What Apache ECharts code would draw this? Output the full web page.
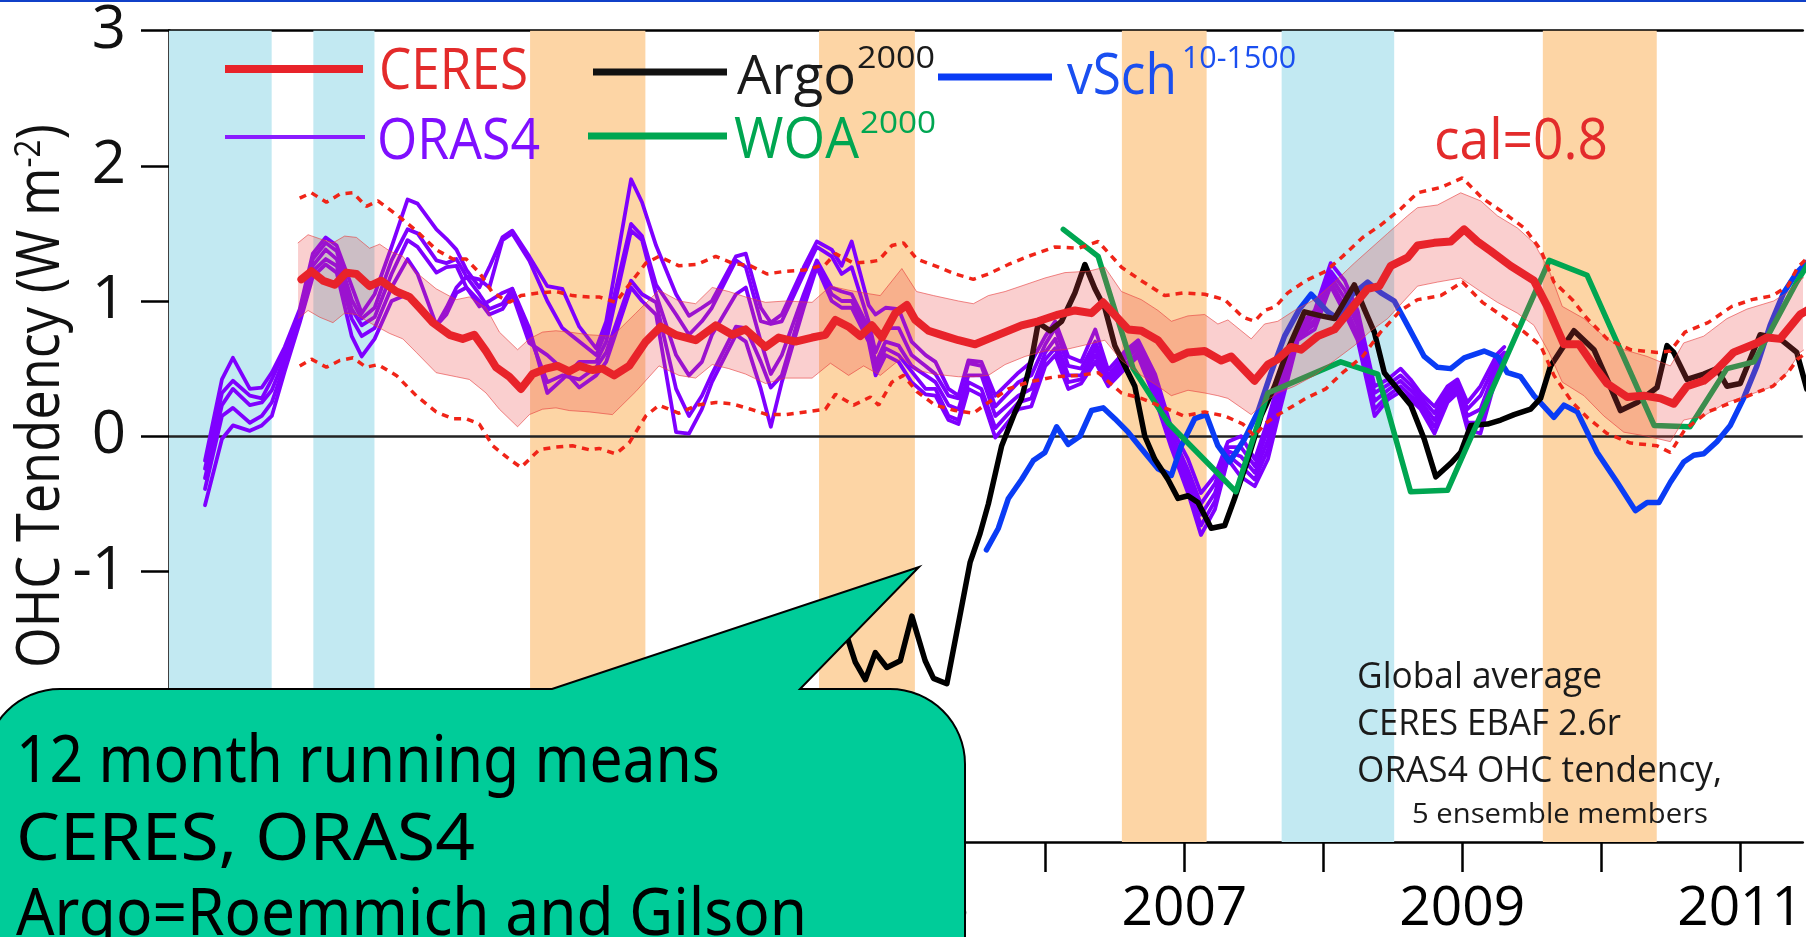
<!DOCTYPE html>
<html><head><meta charset="utf-8">
<script src="https://cdn.jsdelivr.net/npm/echarts@6.0.0/dist/echarts.min.js"></script>
<style>html,body{margin:0;padding:0;background:#fff;overflow:hidden}#c{width:1806px;height:937px}</style>
</head><body><div id="c"></div>
<script>
// ---------------- DATA ----------------
const xTickYears = [2000,2001,2002,2003,2004,2005,2006,2007,2008,2009,2010,2011];
const xLabelYears = [2001,2003,2005,2007,2009,2011];
const yTickValues = [-3,-2,-1,0,1,2,3];
// -3 and -2 sit behind the speech bubble in the original figure
const yTickLabels = ['','','-1','0','1','2','3'];

// ENSO shading (start year, end year)
const laNina = [[1999.69,2000.43],[2000.73,2001.17],[2007.70,2008.51]];
const elNino = [[2002.29,2003.12],[2004.37,2005.06],[2006.55,2007.16],[2009.58,2010.40]];

// CERES 12-month running mean (year, W m-2)
const ceres = [[2000.644,1.16],[2000.716,1.22],[2000.800,1.15],[2000.884,1.12],[2000.968,1.21],[2001.040,1.20],[2001.135,1.11],[2001.219,1.15],[2001.327,1.07],[2001.422,1.03],[2001.494,0.95],[2001.590,0.84],[2001.710,0.75],[2001.805,0.72],[2001.889,0.75],[2001.973,0.63],[2002.045,0.51],[2002.141,0.44],[2002.225,0.35],[2002.308,0.46],[2002.404,0.50],[2002.488,0.52],[2002.572,0.48],[2002.644,0.52],[2002.739,0.49],[2002.811,0.50],[2002.895,0.45],[2003.003,0.52],[2003.123,0.70],[2003.231,0.81],[2003.338,0.75],[2003.482,0.71],[2003.626,0.82],[2003.745,0.75],[2003.841,0.79],[2003.985,0.66],[2004.080,0.73],[2004.200,0.70],[2004.320,0.73],[2004.416,0.75],[2004.488,0.86],[2004.583,0.81],[2004.667,0.74],[2004.751,0.82],[2004.823,0.73],[2004.919,0.91],[2005.002,0.97],[2005.063,0.86],[2005.158,0.78],[2005.278,0.74],[2005.374,0.71],[2005.494,0.68],[2005.589,0.72],[2005.709,0.77],[2005.828,0.82],[2005.948,0.85],[2006.092,0.90],[2006.212,0.93],[2006.331,0.91],[2006.415,0.99],[2006.487,0.91],[2006.595,0.79],[2006.690,0.78],[2006.810,0.71],[2006.918,0.57],[2007.026,0.62],[2007.146,0.63],[2007.265,0.56],[2007.337,0.59],[2007.505,0.41],[2007.601,0.53],[2007.672,0.57],[2007.768,0.66],[2007.840,0.64],[2007.960,0.74],[2008.080,0.79],[2008.199,0.94],[2008.319,1.09],[2008.403,1.11],[2008.486,1.26],[2008.606,1.32],[2008.678,1.41],[2008.798,1.43],[2008.917,1.44],[2009.014,1.53],[2009.109,1.44],[2009.205,1.37],[2009.348,1.26],[2009.516,1.15],[2009.612,0.96],[2009.732,0.68],[2009.840,0.68],[2009.948,0.52],[2010.043,0.39],[2010.187,0.29],[2010.307,0.30],[2010.426,0.28],[2010.522,0.24],[2010.618,0.37],[2010.738,0.41],[2010.810,0.47],[2010.953,0.62],[2011.121,0.69],[2011.193,0.73],[2011.288,0.72],[2011.432,0.90],[2011.516,0.95]];

// CERES shaded uncertainty band
const bandYears = [2000.620,2000.692,2000.776,2000.871,2000.955,2001.040,2001.135,2001.207,2001.279,2001.374,2001.471,2001.614,2001.758,2001.853,2001.973,2002.069,2002.200,2002.285,2002.380,2002.476,2002.572,2002.716,2002.883,2003.051,2003.218,2003.362,2003.482,2003.601,2003.721,2003.841,2003.985,2004.129,2004.320,2004.452,2004.583,2004.691,2004.811,2004.966,2005.072,2005.194,2005.374,2005.481,2005.589,2005.709,2005.853,2005.996,2006.140,2006.307,2006.427,2006.547,2006.690,2006.810,2006.906,2007.026,2007.146,2007.241,2007.313,2007.481,2007.577,2007.672,2007.792,2007.936,2008.080,2008.223,2008.343,2008.463,2008.606,2008.678,2008.822,2008.989,2009.133,2009.253,2009.397,2009.516,2009.624,2009.720,2009.876,2010.019,2010.163,2010.331,2010.498,2010.594,2010.738,2010.905,2011.049,2011.241,2011.336,2011.432,2011.516];
const bandUpper = [1.43,1.49,1.46,1.43,1.48,1.47,1.39,1.42,1.37,1.33,1.21,1.09,1.01,1.03,0.95,0.77,0.64,0.72,0.77,0.78,0.77,0.75,0.74,0.91,1.08,1.00,0.98,1.10,1.07,1.03,0.99,1.00,0.99,1.11,1.08,1.06,1.04,1.24,1.07,1.04,1.00,0.98,1.04,1.07,1.12,1.17,1.21,1.22,1.25,1.07,1.01,0.93,0.85,0.89,0.90,0.83,0.86,0.72,0.83,0.85,0.93,1.01,1.14,1.28,1.39,1.50,1.63,1.69,1.71,1.80,1.74,1.63,1.54,1.43,1.23,0.96,0.87,0.74,0.64,0.59,0.52,0.69,0.74,0.87,0.94,1.00,1.06,1.16,1.20];
const bandLower = [0.87,0.93,0.88,0.84,0.91,0.90,0.84,0.80,0.76,0.72,0.62,0.47,0.44,0.42,0.32,0.20,0.07,0.16,0.20,0.21,0.19,0.18,0.16,0.33,0.52,0.45,0.43,0.53,0.50,0.46,0.39,0.43,0.43,0.54,0.45,0.52,0.45,0.58,0.49,0.46,0.44,0.44,0.45,0.53,0.59,0.63,0.64,0.68,0.71,0.56,0.45,0.37,0.30,0.34,0.32,0.30,0.28,0.16,0.25,0.32,0.37,0.45,0.56,0.67,0.78,0.87,1.03,1.11,1.14,1.17,1.07,0.99,0.91,0.82,0.62,0.40,0.30,0.15,0.03,0.00,-0.04,0.12,0.15,0.25,0.30,0.37,0.47,0.62,0.68];

// CERES dotted outer bounds
const dotYears = [2000.632,2000.716,2000.824,2000.920,2001.015,2001.111,2001.195,2001.327,2001.471,2001.614,2001.734,2001.830,2001.925,2002.021,2002.141,2002.225,2002.356,2002.476,2002.596,2002.716,2002.787,2002.907,2003.003,2003.123,2003.218,2003.362,2003.491,2003.626,2003.745,2003.877,2003.996,2004.129,2004.272,2004.416,2004.488,2004.619,2004.739,2004.799,2004.894,2004.978,2005.074,2005.206,2005.350,2005.481,2005.589,2005.733,2005.876,2006.068,2006.236,2006.379,2006.547,2006.690,2006.858,2006.997,2007.146,2007.290,2007.421,2007.505,2007.577,2007.658,2007.744,2007.874,2008.017,2008.139,2008.283,2008.412,2008.556,2008.678,2008.846,2009.001,2009.145,2009.301,2009.447,2009.564,2009.660,2009.792,2009.899,2010.043,2010.211,2010.402,2010.498,2010.603,2010.769,2010.941,2011.085,2011.236,2011.343,2011.415,2011.516];
const dotUpper = [1.76,1.80,1.73,1.79,1.80,1.70,1.74,1.64,1.52,1.38,1.31,1.31,1.21,1.06,0.99,1.04,1.06,1.07,1.04,1.03,1.03,0.99,1.12,1.28,1.33,1.26,1.27,1.33,1.28,1.26,1.20,1.22,1.23,1.27,1.35,1.28,1.29,1.30,1.41,1.43,1.31,1.26,1.20,1.16,1.20,1.27,1.33,1.40,1.39,1.44,1.25,1.15,1.04,1.06,1.05,1.01,0.88,0.85,0.93,0.96,1.06,1.15,1.22,1.33,1.47,1.56,1.68,1.80,1.84,1.91,1.76,1.65,1.54,1.38,1.14,1.01,0.87,0.72,0.64,0.62,0.63,0.77,0.84,0.96,1.01,1.04,1.11,1.25,1.35];
const dotLower = [0.52,0.57,0.51,0.56,0.58,0.51,0.53,0.45,0.30,0.18,0.13,0.13,0.09,-0.07,-0.17,-0.23,-0.10,-0.08,-0.07,-0.10,-0.09,-0.13,-0.05,0.15,0.23,0.17,0.23,0.25,0.24,0.20,0.16,0.16,0.18,0.20,0.31,0.23,0.29,0.23,0.40,0.45,0.33,0.23,0.19,0.17,0.25,0.35,0.40,0.44,0.45,0.47,0.32,0.28,0.21,0.15,0.18,0.15,0.09,0.00,0.09,0.15,0.20,0.28,0.35,0.47,0.59,0.77,0.93,1.01,1.04,1.14,0.99,0.88,0.77,0.67,0.45,0.25,0.14,0.02,-0.05,-0.07,-0.12,0.05,0.18,0.25,0.31,0.37,0.47,0.57,0.65];

// ORAS4 OHC tendency, 5 ensemble members
const oras4Years = [1999.950,2000.072,2000.151,2000.273,2000.359,2000.431,2000.524,2000.632,2000.726,2000.819,2000.898,2001.006,2001.078,2001.171,2001.293,2001.408,2001.480,2001.616,2001.688,2001.760,2001.832,2001.925,2001.997,2002.091,2002.162,2002.284,2002.414,2002.522,2002.644,2002.766,2002.838,2003.017,2003.096,2003.197,2003.341,2003.434,2003.527,2003.599,2003.772,2003.843,2003.951,2004.023,2004.102,2004.260,2004.354,2004.461,2004.533,2004.605,2004.727,2004.777,2004.849,2004.943,2005.036,2005.137,2005.208,2005.302,2005.374,2005.445,2005.539,2005.639,2005.805,2005.898,2005.999,2006.070,2006.164,2006.257,2006.358,2006.451,2006.573,2006.667,2006.789,2006.904,2007.026,2007.119,2007.220,2007.313,2007.407,2007.507,2007.601,2007.694,2007.816,2007.938,2008.053,2008.154,2008.247,2008.369,2008.463,2008.556,2008.628,2008.700,2008.800,2008.894,2008.966,2009.037,2009.131,2009.253,2009.303];
const oras4M1 = [-0.18,0.42,0.58,0.35,0.36,0.47,0.66,0.94,1.35,1.47,1.41,1.11,0.91,1.05,1.40,1.75,1.72,1.53,1.46,1.38,1.23,1.10,1.25,1.47,1.52,1.33,1.11,1.09,0.81,0.65,0.85,1.90,1.73,1.41,1.05,0.89,0.95,1.00,1.33,1.35,0.95,0.84,0.90,1.25,1.44,1.38,1.26,1.44,0.97,0.90,0.95,0.94,0.70,0.60,0.55,0.35,0.30,0.56,0.55,0.30,0.47,0.55,0.74,0.85,0.59,0.55,0.79,0.49,0.63,0.71,0.46,0.07,-0.17,-0.42,-0.29,-0.04,0.00,-0.17,0.12,0.46,0.81,0.93,1.28,1.15,0.93,0.37,0.42,0.50,0.42,0.32,0.22,0.37,0.42,0.25,0.37,0.61,0.66];
const oras4M2 = [-0.24,0.32,0.41,0.30,0.28,0.42,0.63,0.92,1.31,1.43,1.37,1.01,0.87,0.95,1.30,1.53,1.50,1.30,1.28,1.31,1.18,1.16,1.10,1.45,1.50,1.30,1.00,0.80,0.70,0.60,0.78,1.57,1.48,1.12,0.90,0.75,0.85,0.95,1.30,1.25,0.85,0.83,0.85,1.20,1.40,1.33,1.20,1.25,0.85,0.62,0.80,0.80,0.60,0.52,0.46,0.30,0.28,0.54,0.52,0.22,0.40,0.45,0.68,0.80,0.52,0.50,0.70,0.45,0.60,0.68,0.42,0.03,-0.25,-0.50,-0.35,-0.08,-0.08,-0.22,0.05,0.40,0.78,0.90,1.22,1.08,0.87,0.32,0.38,0.45,0.38,0.29,0.17,0.34,0.40,0.20,0.30,0.57,0.62];
const oras4M3 = [-0.31,0.23,0.35,0.23,0.25,0.34,0.58,0.89,1.26,1.38,1.31,0.94,0.82,0.88,1.20,1.45,1.40,1.21,1.25,1.26,1.10,0.96,1.00,1.06,1.09,0.80,0.32,0.42,0.55,0.55,0.70,1.52,1.45,1.05,0.60,0.45,0.55,0.75,1.05,1.10,0.70,0.46,0.60,1.05,1.30,1.10,1.07,1.05,0.80,0.54,0.70,0.67,0.52,0.45,0.40,0.23,0.20,0.45,0.45,0.15,0.30,0.35,0.62,0.72,0.45,0.45,0.65,0.42,0.57,0.65,0.38,0.00,-0.30,-0.58,-0.42,-0.11,-0.15,-0.27,-0.03,0.34,0.76,0.86,1.18,1.02,0.82,0.26,0.34,0.41,0.34,0.26,0.12,0.31,0.37,0.15,0.20,0.54,0.60];
const oras4M4 = [-0.39,0.15,0.21,0.10,0.15,0.25,0.53,0.87,1.22,1.31,1.26,0.87,0.74,0.80,1.10,1.31,1.20,0.82,0.95,1.10,1.18,1.05,0.94,0.98,1.09,0.75,0.40,0.45,0.42,0.51,0.62,1.15,1.05,0.99,0.35,0.15,0.30,0.46,0.81,0.80,0.55,0.36,0.45,1.00,1.28,1.05,1.00,1.00,0.75,0.50,0.65,0.60,0.48,0.35,0.35,0.15,0.12,0.40,0.35,0.06,0.25,0.28,0.57,0.65,0.40,0.42,0.60,0.40,0.53,0.62,0.33,-0.04,-0.36,-0.66,-0.48,-0.14,-0.22,-0.32,-0.10,0.28,0.73,0.83,1.14,0.96,0.76,0.20,0.30,0.37,0.30,0.23,0.07,0.28,0.35,0.10,0.10,0.50,0.57];
const oras4M5 = [-0.51,-0.02,0.08,0.04,0.08,0.15,0.48,0.84,1.18,1.27,1.21,0.74,0.59,0.72,1.00,1.05,0.95,0.82,0.90,1.06,1.10,1.00,0.90,0.94,1.05,0.69,0.60,0.50,0.36,0.45,0.55,1.10,1.00,0.90,0.03,0.02,0.20,0.40,0.75,0.70,0.35,0.07,0.40,0.95,1.25,1.00,0.95,0.95,0.70,0.45,0.60,0.55,0.40,0.31,0.30,0.12,0.09,0.35,0.30,-0.01,0.20,0.22,0.52,0.60,0.35,0.39,0.55,0.37,0.50,0.59,0.28,-0.08,-0.42,-0.73,-0.54,-0.17,-0.30,-0.37,-0.17,0.22,0.71,0.79,1.11,0.91,0.71,0.15,0.27,0.33,0.27,0.20,0.02,0.25,0.32,0.05,0.02,0.47,0.55];

// Argo (0-2000 m), Roemmich and Gilson
const argo = [[2004.571,-1.48],[2004.631,-1.67],[2004.703,-1.80],[2004.775,-1.60],[2004.858,-1.71],[2004.955,-1.66],[2005.038,-1.33],[2005.134,-1.66],[2005.194,-1.79],[2005.290,-1.83],[2005.374,-1.38],[2005.458,-0.93],[2005.529,-0.72],[2005.589,-0.50],[2005.685,-0.07],[2005.781,0.18],[2005.828,0.28],[2005.900,0.57],[2005.948,0.84],[2006.032,0.78],[2006.116,0.85],[2006.212,1.06],[2006.284,1.27],[2006.356,1.09],[2006.427,0.95],[2006.499,0.67],[2006.571,0.52],[2006.643,0.37],[2006.715,0.00],[2006.787,-0.17],[2006.882,-0.32],[2006.954,-0.46],[2007.026,-0.44],[2007.098,-0.49],[2007.193,-0.68],[2007.290,-0.66],[2007.361,-0.46],[2007.457,-0.17],[2007.552,0.15],[2007.649,0.37],[2007.744,0.64],[2007.864,0.92],[2007.984,0.89],[2008.080,0.87],[2008.223,1.12],[2008.295,0.94],[2008.367,0.77],[2008.439,0.47],[2008.534,0.35],[2008.630,0.23],[2008.726,-0.02],[2008.810,-0.30],[2008.917,-0.20],[2008.989,-0.12],[2009.061,0.08],[2009.181,0.09],[2009.277,0.12],[2009.373,0.16],[2009.492,0.20],[2009.564,0.28],[2009.636,0.52],[2009.732,0.67],[2009.804,0.78],[2009.948,0.64],[2010.043,0.42],[2010.139,0.19],[2010.259,0.25],[2010.402,0.36],[2010.474,0.67],[2010.522,0.62],[2010.618,0.42],[2010.738,0.46],[2010.833,0.50],[2010.905,0.37],[2011.001,0.39],[2011.144,0.75],[2011.288,0.72],[2011.408,0.62],[2011.480,0.35]];

// von Schuckmann 10-1500 m
const vsch = [[2005.575,-0.84],[2005.661,-0.68],[2005.733,-0.46],[2005.828,-0.32],[2005.912,-0.18],[2005.996,-0.12],[2006.080,0.07],[2006.164,-0.06],[2006.248,0.00],[2006.331,0.19],[2006.415,0.21],[2006.499,0.13],[2006.595,0.03],[2006.690,-0.09],[2006.810,-0.24],[2006.906,-0.29],[2006.978,-0.07],[2007.074,0.13],[2007.157,0.16],[2007.241,-0.07],[2007.325,-0.19],[2007.433,-0.02],[2007.529,0.18],[2007.624,0.47],[2007.721,0.74],[2007.828,0.94],[2007.912,1.05],[2008.032,0.92],[2008.103,0.87],[2008.199,1.04],[2008.319,1.14],[2008.415,1.06],[2008.511,1.00],[2008.606,0.82],[2008.726,0.59],[2008.822,0.51],[2008.917,0.50],[2009.014,0.58],[2009.157,0.63],[2009.253,0.59],[2009.325,0.47],[2009.420,0.44],[2009.516,0.30],[2009.660,0.14],[2009.732,0.23],[2009.828,0.18],[2009.971,-0.12],[2010.115,-0.34],[2010.246,-0.55],[2010.331,-0.49],[2010.415,-0.49],[2010.498,-0.34],[2010.594,-0.19],[2010.666,-0.14],[2010.738,-0.13],[2010.833,-0.04],[2010.929,0.08],[2011.025,0.28],[2011.121,0.52],[2011.216,0.82],[2011.313,1.06],[2011.408,1.21],[2011.494,1.30]];

// WOA 0-2000 m
const woa = [[2006.128,1.53],[2006.379,1.33],[2006.631,0.50],[2006.882,0.10],[2007.371,-0.41],[2007.601,0.32],[2008.125,0.55],[2008.391,0.46],[2008.628,-0.41],[2008.894,-0.40],[2009.626,1.30],[2009.899,1.19],[2010.381,0.08],[2010.639,0.07],[2010.905,0.50],[2011.099,0.55],[2011.408,1.14],[2011.494,1.28]];

// ---------------- CHART ----------------
const X_MIN = 1999.691, X_MAX = 2011.451;
const C_RED = '#E8232A', C_PURPLE = '#7F00FF', C_BLUE = '#0A3CF5', C_GREEN = '#00A651';

const chart = echarts.init(document.getElementById('c'), null, {renderer: 'canvas', width: 1806, height: 937});

const mctx = document.createElement('canvas').getContext('2d');
function textW(t, size, fam) { mctx.font = size + 'px "' + fam + '"'; return mctx.measureText(t).width; }
function txt(t, x, capY, size, color, width, fam, z, extra) {
  fam = fam || 'Open Sans';
  const s = width ? width / textW(t, size, fam) : 1;
  return Object.assign({
    type: 'text', x: x, y: capY + 0.07 * size, scaleX: s, z: z || 60, silent: true,
    style: {text: t, fontSize: size, fontFamily: fam, fill: color, align: 'left', verticalAlign: 'middle'}
  }, extra || {});
}
function seg(x1, y1, x2, y2, color, w) {
  return {type: 'line', z: 60, silent: true, shape: {x1: x1, y1: y1, x2: x2, y2: y2}, style: {stroke: color, lineWidth: w}};
}

function bandSeries(list, color) {
  return {
    type: 'custom', z: 1, silent: true, clip: true,
    data: list,
    renderItem: function (params, api) {
      const p0 = api.coord([api.value(0), 3]);
      const p1 = api.coord([api.value(1), -3]);
      return {type: 'rect', shape: {x: p0[0], y: p0[1], width: p1[0] - p0[0], height: p1[1] - p0[1]}, style: {fill: color}};
    }
  };
}
function lineSeries(name, data, color, width, z, extra) {
  return Object.assign({
    name: name, type: 'line', data: data, symbol: 'none', showSymbol: false, z: z, silent: true,
    lineStyle: {color: color, width: width, join: 'round', cap: 'round'}, clip: true
  }, extra || {});
}
const zip = (xs, ys) => xs.map((x, i) => [x, ys[i]]);

const series = [
  bandSeries(laNina, '#C2E9F2'),
  bandSeries(elNino, '#FDD5A5'),
  {
    type: 'line', data: [], z: 2, silent: true,
    markLine: {silent: true, symbol: 'none', z: 2, label: {show: false},
      lineStyle: {color: '#222', width: 2.5, type: 'solid'}, data: [{yAxis: 0}]}
  }
];
[oras4M1, oras4M2, oras4M3, oras4M4, oras4M5].forEach((m, i) => {
  series.push(lineSeries('ORAS4 ' + (i + 1), zip(oras4Years, m), C_PURPLE, 3.8, 2));
});
series.push(lineSeries('vSch', vsch, C_BLUE, 5.5, 2));
series.push(lineSeries('Argo', argo, '#000', 5.5, 2));
series.push(lineSeries('WOA', woa, C_GREEN, 5.5, 2));
series.push({
  type: 'custom', z: 3, silent: true, clip: true,
  data: [[bandYears[0], bandUpper[0]]],
  renderItem: function (params, api) {
    const pts = [];
    for (let i = 0; i < bandYears.length; i++) pts.push(api.coord([bandYears[i], bandUpper[i]]));
    for (let i = bandYears.length - 1; i >= 0; i--) pts.push(api.coord([bandYears[i], bandLower[i]]));
    return {type: 'polygon', shape: {points: pts}, style: {fill: 'rgba(236,70,70,0.26)'}};
  }
});
series.push(lineSeries('band upper', zip(bandYears, bandUpper), 'rgba(230,60,60,0.6)', 1, 4));
series.push(lineSeries('band lower', zip(bandYears, bandLower), 'rgba(230,60,60,0.6)', 1, 4));
series.push(lineSeries('dot upper', zip(dotYears, dotUpper), '#F02418', 3.5, 5, {lineStyle: {color: '#F02418', width: 3.5, type: [7, 6], cap: 'butt'}}));
series.push(lineSeries('dot lower', zip(dotYears, dotLower), '#F02418', 3.5, 5, {lineStyle: {color: '#F02418', width: 3.5, type: [7, 6], cap: 'butt'}}));
series.push(lineSeries('CERES', ceres, C_RED, 8, 6));

// ---------- annotation graphics ----------
const els = [];
els.push({type: 'rect', z: 60, silent: true, shape: {x: 0, y: 0, width: 1806, height: 2}, style: {fill: '#1040C8'}});
// legend
els.push(seg(225, 69, 363, 69, C_RED, 8));
els.push(seg(225, 137, 365, 137, '#8A1CFF', 4));
els.push(seg(593, 72, 727, 72, '#111', 7));
els.push(seg(588, 136, 727, 136, C_GREEN, 7));
els.push(seg(938, 77, 1052, 77, C_BLUE, 7));
els.push(txt('CERES', 379, 68.5, 57, '#E32B2B', 149));
els.push(txt('ORAS4', 377, 139, 57, '#7F0FFF', 163));
els.push(txt('Argo', 737, 74, 55, '#1a1a1a', 119));
els.push(txt('2000', 857, 57, 31, '#1a1a1a', 78));
els.push(txt('WOA', 734, 137.5, 57, C_GREEN, 125));
els.push(txt('2000', 860, 122, 31, C_GREEN, 76));
els.push(txt('vSch', 1067, 73.5, 57, '#1A4FF0', 110));
els.push(txt('10-1500', 1182, 57, 31, '#1A4FF0', 114));
els.push(txt('cal=0.8', 1434, 139, 57, '#E32B2B', 174));
// notes
els.push(txt('Global average', 1357, 675, 36, '#1a1a1a', 245));
els.push(txt('CERES EBAF 2.6r', 1357, 722.5, 36, '#1a1a1a', 264));
els.push(txt('ORAS4 OHC tendency,', 1357, 769.5, 36, '#1a1a1a', 365));
els.push(txt('5 ensemble members', 1412, 813, 27, '#1a1a1a', 296));
// y axis title (rotated)
(function () {
  const a = 'OHC Tendency (W m', b = '-2', c = ')';
  const wa = textW(a, 60, 'Open Sans'), wb = textW(b, 36, 'Open Sans'), wc = textW(c, 60, 'Open Sans');
  const s = 544 / (wa + wb + wc);
  const base = {type: 'text', rotation: Math.PI / 2, scaleX: s, z: 60, silent: true};
  els.push(Object.assign({}, base, {x: 42, y: 668, style: {text: a, fontSize: 60, fontFamily: 'Open Sans', fill: '#111', align: 'left', verticalAlign: 'middle'}}));
  els.push(Object.assign({}, base, {x: 30, y: 668 - wa * s, style: {text: b, fontSize: 36, fontFamily: 'Open Sans', fill: '#111', align: 'left', verticalAlign: 'middle'}}));
  els.push(Object.assign({}, base, {x: 42, y: 668 - (wa + wb) * s, style: {text: c, fontSize: 60, fontFamily: 'Open Sans', fill: '#111', align: 'left', verticalAlign: 'middle'}}));
})();
// callout (speech bubble) as polygon with rounded top corners
(function () {
  const L = -15, T = 689, R = 965, B = 960, r = 75;
  const pts = [[L, B], [L, T + r]];
  for (let i = 1; i < 16; i++) {
    const a = Math.PI + (Math.PI / 2) * i / 16;
    pts.push([L + r + r * Math.cos(a), T + r + r * Math.sin(a)]);
  }
  pts.push([L + r, T], [552, T], [919, 567], [800, T], [R - r, T]);
  for (let i = 1; i < 16; i++) {
    const a = 1.5 * Math.PI + (Math.PI / 2) * i / 16;
    pts.push([R - r + r * Math.cos(a), T + r + r * Math.sin(a)]);
  }
  pts.push([R, T + r], [R, B]);
  els.push({type: 'polygon', z: 100, silent: true, shape: {points: pts}, style: {fill: '#00CC99', stroke: '#000', lineWidth: 2, lineJoin: 'miter'}});
  els.push(txt('12 month running means', 16, 759, 66, '#000', 704, 'Noto Sans', 101));
  els.push(txt('CERES, ORAS4', 16, 836.5, 66, '#000', 459, 'Noto Sans', 101));
  els.push(txt('Argo=Roemmich and Gilson', 16, 912, 66, '#000', 791, 'Noto Sans', 101));
})();

const option = {
  animation: false,
  backgroundColor: '#fff',
  grid: {left: 169, right: 0, top: 30.5, bottom: 94, containLabel: false},
  xAxis: [{
    type: 'value', min: X_MIN, max: X_MAX, position: 'bottom',
    axisLine: {show: true, onZero: false, lineStyle: {color: '#000', width: 2.5}},
    axisTick: {show: true, customValues: xTickYears, length: 30, inside: false, lineStyle: {color: '#000', width: 2.5}},
    axisLabel: {show: true, customValues: xLabelYears, formatter: v => String(Math.round(v)), fontSize: 55, fontFamily: 'Open Sans', color: '#000', margin: 40},
    splitLine: {show: false}
  }, {
    type: 'value', min: X_MIN, max: X_MAX, position: 'top',
    axisLine: {show: true, onZero: false, lineStyle: {color: '#000', width: 2.5}},
    axisTick: {show: false}, axisLabel: {show: false}, splitLine: {show: false}
  }],
  yAxis: {
    type: 'value', min: -3, max: 3, interval: 1,
    axisLine: {show: true, onZero: false, lineStyle: {color: '#000', width: 2.5}},
    axisTick: {show: true, length: 28, inside: false, lineStyle: {color: '#000', width: 2.5}},
    axisLabel: {show: true, fontSize: 60, fontFamily: 'Open Sans', color: '#111', margin: 43,
      formatter: v => { const i = yTickValues.indexOf(Math.round(v)); return i >= 0 ? yTickLabels[i] : ''; }},
    splitLine: {show: false}
  },
  series: series,
  graphic: {elements: els}
};
chart.setOption(option);
</script></body></html>
